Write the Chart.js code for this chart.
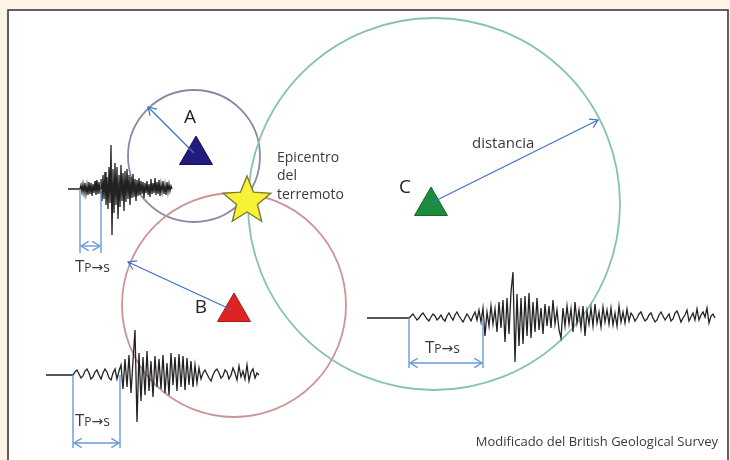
<!DOCTYPE html>
<html lang="es">
<head>
<meta charset="utf-8">
<title>Epicentro del terremoto</title>
<script src="https://cdn.jsdelivr.net/npm/chart.js@4.4.1/dist/chart.umd.min.js"></script>
<style>
  html, body { margin: 0; padding: 0; background: #fdf3e6; }
  #holder { width: 730px; height: 460px; }
</style>
</head>
<body>
<div id="holder"><canvas id="chart"></canvas></div>
<script>
// estaciones sismológicas
const stations = ['A', 'B', 'C'];
const stationX = [196, 234, 431];
const stationY = [155, 312, 206];
const stationColors = ['#221d7c', '#e02222', '#1b8c3c'];
const stationEdges = ['#15115a', '#a81818', '#126a2c'];

// círculos de distancia
const circleX = [194, 234, 434];
const circleY = [156, 305, 204];
const circleR = [66, 112, 186];
const circleColors = ['#8b88a6', '#cc9494', '#86c2ad'];

// punta de la flecha de radio
const radiusTipX = [148, 128, 598];
const radiusTipY = [107, 262, 120];

// epicentro
const epiX = [247];
const epiY = [199];

// sismogramas: inicio, llegada P, llegada S, paso, línea base
const seisStartX = [68, 46, 367];
const seisPX = [80, 73, 409];
const seisSX = [101, 120, 483];
const seisStep = [1, 2, 2];
const seisBaseY = [189, 375, 318];
const bracketBottom = [253, 448, 368];
const bracketArrowY = [246, 443, 363];

// amplitudes (positivo = arriba)
const ampA = [
  0, 4, -3, 5, -4, 6, -5, 4, -6, 7, -5, 6, -7, 5, -4, 8, -6, 9, -5, 7, -4,
  10, -12, 14, -10, 17, -16, 12, -20, 22, -14,
  44, -46,
  20, -24, 26, -16, 22, -30, 14, -18, 24, -12, 16, -22, 18, -13, 20, -10, 14, -16, 12, -9, 15, -8, 10, -12, 9, -7, 11,
  -6, 8, -5, 7, -9, 6, -4, 8, -6, 5, -8, 10, -5, 6, -4, 11, -6, 7, -5, 9, -7, 5, -3, 8, -5, 4, -6, 7, -3, 5, -2, 3, 0
];
const ampB = [
  0, 3, 5, 1, -3, -1, 4, 6, 2, -4, -2, 3, 5, 0, -4, 2, 6, 3, -3, -5, 2, 6, -4, 4,
  10, -14, 16, -12, 20, -18, 14,
  45, -47,
  22, -26, 18, -20, 24, -16, 14, -22, 19, -12, 16,
  -14, 20, -18, 12, -20, 22, -10, 18, -16, 21, -12, 19, -15, 17, -10, 14, -12, 10, -8, 7,
  -4, 2, 5, 1, -3, -6, 0, 4, 6, 2, -3, -1, 5, 3, -4, 0, 7, 2, -5, 9, -2, 4, -4, 10, -6, 3, 6, -3, 2, 0
];
const ampC = [
  0, 2, 4, 1, -2, 0, 3, 5, 2, -1, -3, 1, 4, 2, -2, 0, 3, -1, -3, 2, 5, 1, -2, 3, 6, 2, -1, -4, 0, 4, 1, -3, 2, 6, -2, 8, -4,
  10, -18, 6, -8, 12, -6, 9, -14, 16, -10, 18, -24, 20, -16, 26,
  46, -44,
  24, -28, 20, -26, 22, -18, 25, -20, 16, -14, 20, -12, 10, -16, 14, -8, 12, -10, 18, -6, 8, -12,
  -20, 10, -8, 12, -6, 9, -14, 16, -5, 8, -10, 12, -18, 7, -6, 10, -8, 14, -5, 6, -9, 11, -4, 8, -6, 10, -7, 5, -8, 12, -4, 6, -5, 9, -3,
  5, 2, -3, 0, 4, 6, 1, -3, -1, 3, 5, 0, -4, -2, 3, 6, 2, -2, 1, 4, -3, -1, 5, 7, 2, -4, 0, 3, 8, -3, 1, 5, -2, 9, -2, 3, 6, 1, 10, -5, 2, 4, 0
];
const amps = [ampA, ampB, ampC];

// etiquetas Tp->s
const tpsX = [75, 75, 425];
const tpsY = [272, 426, 353];

const BLUE = '#3c72c4';
const LIGHT_BLUE = '#6a9ad8';
const INK = '#222222';

function seismogram(k) {
  const pts = [{x: seisStartX[k], y: seisBaseY[k]}];
  amps[k].forEach(function (a, i) {
    pts.push({x: seisPX[k] + i * seisStep[k], y: seisBaseY[k] - a});
  });
  return pts;
}

function makeStar(R) {
  const c = document.createElement('canvas');
  const s = Math.ceil(R * 2 + 4);
  c.width = s; c.height = s;
  const g = c.getContext('2d');
  const cx = s / 2, cy = s / 2 + R * 0.08;
  g.beginPath();
  for (let i = 0; i < 10; i++) {
    const r = i % 2 ? R * 0.44 : R;
    const a = -Math.PI / 2 + i * Math.PI / 5;
    const px = cx + r * Math.cos(a), py = cy + r * Math.sin(a);
    if (i === 0) g.moveTo(px, py); else g.lineTo(px, py);
  }
  g.closePath();
  g.fillStyle = '#f8f236';
  g.fill();
  g.lineWidth = 1.4;
  g.strokeStyle = '#7d7a36';
  g.stroke();
  return c;
}

const datasets = [];

// epicentro (encima de todo)
datasets.push({
  data: [{x: epiX[0], y: epiY[0]}],
  pointStyle: makeStar(25),
  pointRadius: 25,
  showLine: false,
  order: 0
});

// flechas de radio
stations.forEach(function (s, k) {
  datasets.push({
    data: [{x: stationX[k] - 2, y: stationY[k] - 2}, {x: radiusTipX[k], y: radiusTipY[k]}],
    borderColor: BLUE,
    borderWidth: 1.2,
    pointRadius: 0,
    showLine: true,
    arrows: 'end',
    order: 1
  });
});

// estaciones
datasets.push({
  data: stations.map(function (s, k) { return {x: stationX[k], y: stationY[k]}; }),
  pointStyle: 'triangle',
  pointRadius: 19,
  backgroundColor: stationColors,
  borderColor: stationEdges,
  borderWidth: 1,
  showLine: false,
  order: 2
});

// corchetes Tp->s
stations.forEach(function (s, k) {
  datasets.push({
    data: [{x: seisPX[k], y: seisBaseY[k]}, {x: seisPX[k], y: bracketBottom[k]}],
    borderColor: LIGHT_BLUE, borderWidth: 1.4, pointRadius: 0, showLine: true, order: 3
  });
  datasets.push({
    data: [{x: seisSX[k], y: seisBaseY[k]}, {x: seisSX[k], y: bracketBottom[k]}],
    borderColor: LIGHT_BLUE, borderWidth: 1.4, pointRadius: 0, showLine: true, order: 3
  });
  datasets.push({
    data: [{x: seisPX[k] + 1, y: bracketArrowY[k]}, {x: seisSX[k] - 1, y: bracketArrowY[k]}],
    borderColor: LIGHT_BLUE, borderWidth: 1.4, pointRadius: 0, showLine: true,
    arrows: 'both', order: 3
  });
});

// sismogramas
stations.forEach(function (s, k) {
  datasets.push({
    data: seismogram(k),
    borderColor: INK,
    borderWidth: 1.3,
    pointRadius: 0,
    showLine: true,
    tension: 0,
    order: 4
  });
});

function arrowHead(ctx, x1, y1, x2, y2, size) {
  const a = Math.atan2(y2 - y1, x2 - x1);
  ctx.beginPath();
  ctx.moveTo(x2 - size * Math.cos(a - 0.55), y2 - size * Math.sin(a - 0.55));
  ctx.lineTo(x2, y2);
  ctx.lineTo(x2 - size * Math.cos(a + 0.55), y2 - size * Math.sin(a + 0.55));
  ctx.stroke();
}

const framePlugin = {
  id: 'frame',
  beforeDraw: function (chart) {
    const ctx = chart.ctx;
    ctx.save();
    ctx.fillStyle = '#fdf3e6';
    ctx.fillRect(0, 0, chart.width, chart.height);
    ctx.fillStyle = '#ffffff';
    ctx.fillRect(8, 10, 720, 470);
    ctx.strokeStyle = '#3a3a3a';
    ctx.lineWidth = 1.6;
    ctx.strokeRect(8, 10, 720, 470);
    ctx.restore();
  },
  beforeDatasetsDraw: function (chart) {
    const ctx = chart.ctx, xs = chart.scales.x, ys = chart.scales.y;
    ctx.save();
    ctx.lineWidth = 1.8;
    stations.forEach(function (s, k) {
      const cx = xs.getPixelForValue(circleX[k]);
      const cy = ys.getPixelForValue(circleY[k]);
      const r = xs.getPixelForValue(circleX[k] + circleR[k]) - cx;
      ctx.strokeStyle = circleColors[k];
      ctx.beginPath();
      ctx.arc(cx, cy, r, 0, Math.PI * 2);
      ctx.stroke();
    });
    ctx.restore();
  },
  afterDatasetsDraw: function (chart) {
    const ctx = chart.ctx, xs = chart.scales.x, ys = chart.scales.y;
    ctx.save();
    chart.data.datasets.forEach(function (ds, i) {
      if (!ds.arrows) return;
      const p = chart.getDatasetMeta(i).data;
      ctx.strokeStyle = ds.borderColor;
      ctx.lineWidth = ds.borderWidth;
      arrowHead(ctx, p[0].x, p[0].y, p[1].x, p[1].y, 9);
      if (ds.arrows === 'both') arrowHead(ctx, p[1].x, p[1].y, p[0].x, p[0].y, 9);
    });

    ctx.fillStyle = '#222';
    ctx.textBaseline = 'alphabetic';
    ctx.textAlign = 'center';
    ctx.font = '19px "Open Sans"';
    const lx = [190, 201, 405], ly = [123, 313, 193];
    stations.forEach(function (s, k) {
      ctx.fillText(s, xs.getPixelForValue(lx[k]), ys.getPixelForValue(ly[k]));
    });

    ctx.fillStyle = '#3a3a3a';
    ctx.textAlign = 'left';
    ctx.font = '14px "Open Sans"';
    ctx.fillText('Epicentro', 277, 162);
    ctx.fillText('del', 277, 180);
    ctx.fillText('terremoto', 277, 199);
    ctx.font = '15px "Open Sans"';
    ctx.fillText('distancia', 472, 148);

    stations.forEach(function (s, k) {
      let x = tpsX[k];
      const y = tpsY[k];
      ctx.font = '17px "Open Sans"';
      ctx.fillText('T', x, y);
      x += ctx.measureText('T').width;
      ctx.font = '12px "Open Sans"';
      ctx.fillText('P', x, y);
      x += ctx.measureText('P').width;
      ctx.font = '14px "DejaVu Sans"';
      ctx.fillText('→', x, y);
      x += ctx.measureText('→').width;
      ctx.font = '14px "Open Sans"';
      ctx.fillText('s', x, y);
    });

    ctx.textAlign = 'right';
    ctx.font = '13px "Open Sans"';
    ctx.fillText('Modificado del British Geological Survey', 718, 446);
    ctx.restore();
  }
};

new Chart(document.getElementById('chart'), {
  type: 'scatter',
  data: { datasets: datasets },
  options: {
    responsive: true,
    maintainAspectRatio: false,
    animation: false,
    layout: { padding: 0, autoPadding: false },
    plugins: { legend: { display: false }, tooltip: { enabled: false } },
    scales: {
      x: { type: 'linear', min: 0, max: 730, display: false },
      y: { type: 'linear', min: 0, max: 460, reverse: true, display: false }
    }
  },
  plugins: [framePlugin]
});
</script>
</body>
</html>
